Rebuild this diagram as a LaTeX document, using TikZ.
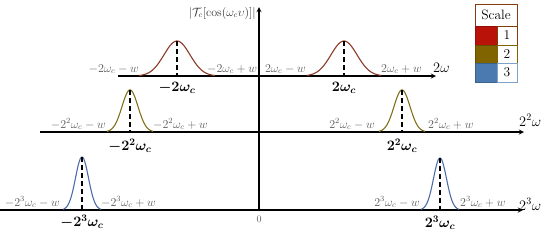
\documentclass[tikz,border=0pt]{standalone}
\usepackage{amsmath}
\usepackage{bm}
\definecolor{curveone}{RGB}{140,58,38}
\definecolor{curvetwo}{RGB}{128,112,28}
\definecolor{curvethree}{RGB}{78,108,170}
\definecolor{scaleone}{RGB}{185,18,8}
\definecolor{scaletwo}{RGB}{127,100,0}
\definecolor{scalethree}{RGB}{74,122,176}
\definecolor{legendframe}{RGB}{132,60,12}
\begin{document}
\begin{tikzpicture}[
    x=1pt, y=-1pt,
    >=stealth,
    axis/.style={->, line width=1.3pt, draw=black},
    peak/.style={line width=1.8pt, draw=black, dash pattern=on 5pt off 3pt},
    bump/.style={line width=1.1pt, draw=#1, smooth},
    edge/.style={font=\fontsize{11.5}{13}\selectfont, text=black!65, inner sep=1pt},
    centre/.style={font=\fontsize{14}{16}\selectfont, inner sep=1pt},
    axlabel/.style={font=\fontsize{14}{16}\selectfont, inner sep=1pt},
    swatch/.style={fill=#1, draw=#1!80!black, line width=0.6pt},
    cell/.style={draw=#1, line width=0.8pt, fill=white},
    key/.style={font=\fontsize{13.5}{15}\selectfont, inner sep=0pt},
]
\useasboundingbox (0,0) rectangle (550,242);

% ── Axes ─────────────────────────────────────────────────────
\coordinate (V0) at (259,211);
\coordinate (V1) at (259,7);
\coordinate (A1s) at (118,76);
\coordinate (A1e) at (436,76);
\coordinate (A2s) at (40,132);
\coordinate (A2e) at (524,132);
\coordinate (A3s) at (0,210);
\coordinate (A3e) at (523,210);

\draw[axis] (A1s) -- (A1e);
\draw[axis] (A2s) -- (A2e);
\draw[axis] (A3s) -- (A3e);
\draw[axis] (V0) -- (V1);

\node[axlabel, anchor=base west] (w1) at (432,72) {$2\omega$};
\node[axlabel, anchor=base west] (w2) at (518,126) {$2^2\omega$};
\node[axlabel, anchor=base west] (w3) at (518,210) {$2^3\omega$};
\node[font=\fontsize{12}{13}\selectfont, text=black!80, anchor=east, inner sep=1pt] (fy) at (257,13) {$|\mathcal{T}_c[\cos(\omega_c\upsilon)]|$};
\node[edge, font=\fontsize{10}{12}\selectfont] (zero) at (259,219) {$0$};

% ── Scale 1 ──────────────────────────────────────────────────
\draw[bump=curveone] plot[domain=-38:38, samples=60] ({177+\x},{76-35*exp(-\x*\x/338)});
\draw[bump=curveone] plot[domain=-37:37, samples=60] ({344+\x},{76-35*exp(-\x*\x/338)});
\coordinate (P1l) at (177,41);
\coordinate (B1l) at (177,77);
\coordinate (P1r) at (344,41);
\coordinate (B1r) at (344,77);
\draw[peak] (P1l) -- (B1l);
\draw[peak] (P1r) -- (B1r);

\node[edge, anchor=base east] (e1a) at (140,72) {$-2\omega_c-w$};
\node[edge, anchor=base west] (e1b) at (206,72) {$-2\omega_c+w$};
\node[edge, anchor=base east] (e1c) at (307,72) {$2\omega_c-w$};
\node[edge, anchor=base west] (e1d) at (380,72) {$2\omega_c+w$};
\node[centre] (c1l) at (177,88) {$\bm{-2\omega_c}$};
\node[centre] (c1r) at (344,88) {$\bm{2\omega_c}$};

% ── Scale 2 ──────────────────────────────────────────────────
\draw[bump=curvetwo] plot[domain=-23:23, samples=60] ({130+\x},{132-42*exp(-\x*\x/128)});
\draw[bump=curvetwo] plot[domain=-23:23, samples=60] ({402+\x},{132-42*exp(-\x*\x/128)});
\coordinate (P2l) at (130,90);
\coordinate (B2l) at (130,133);
\coordinate (P2r) at (402,90);
\coordinate (B2r) at (402,133);
\draw[peak] (P2l) -- (B2l);
\draw[peak] (P2r) -- (B2r);

\node[edge, anchor=base east] (e2a) at (107,128) {$-2^2\omega_c-w$};
\node[edge, anchor=base west] (e2b) at (152,128) {$-2^2\omega_c+w$};
\node[edge, anchor=base east] (e2c) at (376,128) {$2^2\omega_c-w$};
\node[edge, anchor=base west] (e2d) at (427,128) {$2^2\omega_c+w$};
\node[centre] (c2l) at (130,146) {$\bm{-2^2\omega_c}$};
\node[centre] (c2r) at (402,146) {$\bm{2^2\omega_c}$};

% ── Scale 3 ──────────────────────────────────────────────────
\draw[bump=curvethree] plot[domain=-19:19, samples=60] ({82+\x},{210-53*exp(-\x*\x/84)});
\draw[bump=curvethree] plot[domain=-19:19, samples=60] ({440+\x},{210-52*exp(-\x*\x/84)});
\coordinate (P3l) at (82,157);
\coordinate (B3l) at (82,211);
\coordinate (P3r) at (440,158);
\coordinate (B3r) at (440,211);
\draw[peak] (P3l) -- (B3l);
\draw[peak] (P3r) -- (B3r);

\node[edge, anchor=base east] (e3a) at (61,206) {$-2^3\omega_c-w$};
\node[edge, anchor=base west] (e3b) at (100,206) {$-2^3\omega_c+w$};
\node[edge, anchor=base east] (e3c) at (421,206) {$2^3\omega_c-w$};
\node[edge, anchor=base west] (e3d) at (459,206) {$2^3\omega_c+w$};
\node[centre] (c3l) at (82,222) {$\bm{-2^3\omega_c}$};
\node[centre] (c3r) at (440,223) {$\bm{2^3\omega_c}$};

% ── Legend ───────────────────────────────────────────────────
\draw[draw=legendframe, line width=1pt, fill=white] (475,4) rectangle (517,26);
\node[key] (scale) at (496,15) {Scale};
\draw[swatch=scaleone]   (475,26) rectangle (497,45);
\draw[swatch=scaletwo]   (475,45) rectangle (497,63);
\draw[swatch=scalethree] (475,63) rectangle (497,82);
\draw[cell=legendframe]  (497,26) rectangle (517,45);
\draw[cell=scaletwo]     (497,45) rectangle (517,63);
\draw[cell=scalethree!70] (497,63) rectangle (517,82);
\node[key] (k1) at (507,35.5) {1};
\node[key] (k2) at (507,54) {2};
\node[key] (k3) at (507,72.5) {3};

\end{tikzpicture}
\end{document}
